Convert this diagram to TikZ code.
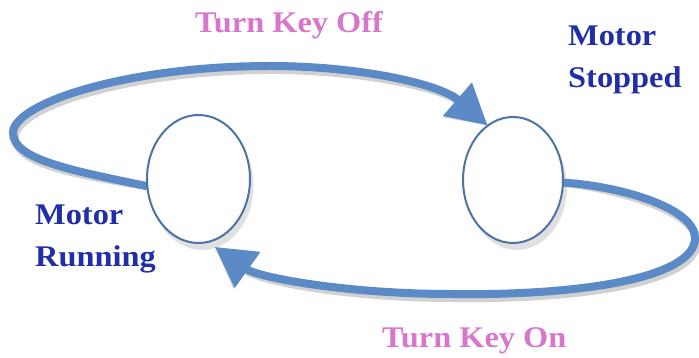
\documentclass[tikz,border=0pt]{standalone}
\usepackage{fontspec}
\newfontfamily\labfont[FakeStretch=1.08]{Liberation Serif}
\usetikzlibrary{arrows.meta}
\definecolor{loopblue}{RGB}{91,138,198}
\definecolor{rimblue}{RGB}{77,115,166}
\definecolor{labpink}{RGB}{214,118,204}
\definecolor{labnavy}{RGB}{32,46,168}
\tikzset{
  statebox/.style={ellipse, draw=rimblue, line width=2pt, fill=white, inner sep=0pt},
  looparrow/.style={draw=loopblue, line width=8pt, -{Triangle[length=40pt,width=42pt]}},
  loopshadow/.style={draw=black!18, line width=8pt, -{Triangle[length=40pt,width=42pt]}},
  actlabel/.style={font=\labfont\bfseries\fontsize{30}{42}\selectfont, text=labpink, inner sep=0pt, anchor=base west},
  statelabel/.style={font=\labfont\bfseries\fontsize{30}{42}\selectfont, text=labnavy, inner sep=0pt, anchor=base west, align=left}
}
\usetikzlibrary{shapes.geometric}
\begin{document}
\begin{tikzpicture}[x=1pt,y=1pt]
\useasboundingbox (0,0) rectangle (699,358);
% state nodes (placed first for anchors; redrawn on top below)
\path (198.5,179) node[ellipse, minimum width=103pt, minimum height=128pt, inner sep=0pt] (run) {};
\path (513,178) node[ellipse, minimum width=100pt, minimum height=126pt, inner sep=0pt] (stop) {};
% shadows
\begin{scope}[shift={(2,-4)}]
\draw[loopshadow] (run.188) .. controls (75,187) and (13,198) .. (13,225)
  .. controls (13,255) and (128,292) .. (270,292)
  .. controls (360,292) and (440,274) .. (stop.115);
\draw[loopshadow] (stop.357) .. controls (620,172) and (695,150) .. (695,120)
  .. controls (695,80) and (580,62) .. (450,64)
  .. controls (350,64) and (259,80) .. ([yshift=-7pt]run.285);
\fill[black!12] (200,176) ellipse [x radius=51.5pt, y radius=64pt];
\fill[black!12] (515,175) ellipse [x radius=50pt, y radius=63pt];
\end{scope}
% connectors
\draw[looparrow] (run.188) .. controls (75,187) and (13,198) .. (13,225)
  .. controls (13,255) and (128,292) .. (270,292)
  .. controls (360,292) and (440,274) .. (stop.115);
\draw[looparrow] (stop.357) .. controls (620,172) and (695,150) .. (695,120)
  .. controls (695,80) and (580,62) .. (450,64)
  .. controls (350,64) and (259,80) .. ([yshift=-7pt]run.285);
% states on top
\node[statebox, minimum width=103pt, minimum height=128pt] (runshape) at (run.center) {};
\node[statebox, minimum width=100pt, minimum height=126pt] (stopshape) at (stop.center) {};
% labels
\node[actlabel] (offlab) at (195,325) {Turn Key Off};
\node[actlabel] (onlab) at (382,10) {Turn Key On};
\node[statelabel] (stoplab) at (568,270) {Motor\\Stopped};
\node[statelabel] (runlab) at (35,91) {Motor\\Running};
\end{tikzpicture}
\end{document}
